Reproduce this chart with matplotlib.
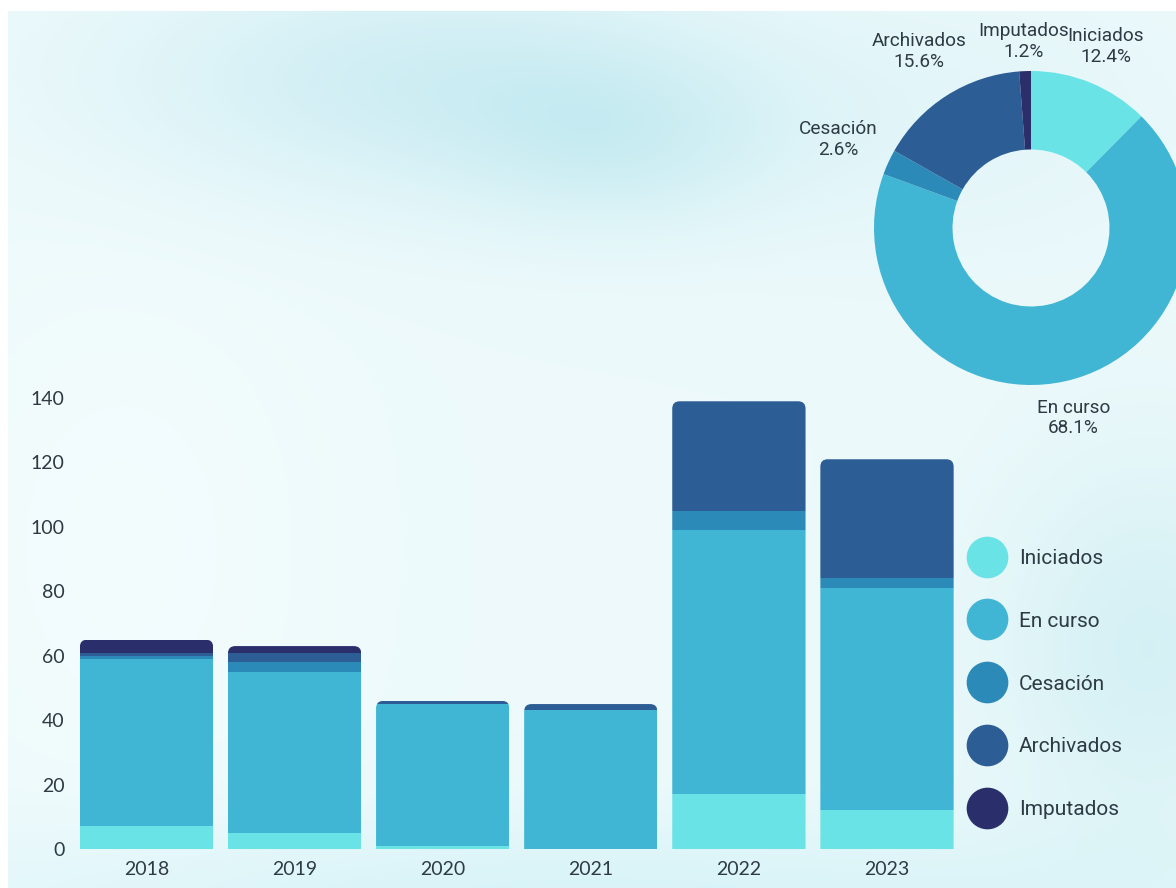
import numpy as np
import matplotlib.pyplot as plt
from matplotlib.patches import FancyBboxPatch, BoxStyle
from matplotlib.lines import Line2D


years = ['2018', '2019', '2020', '2021', '2022', '2023']
categories = ['Iniciados', 'En curso', 'Cesación', 'Archivados', 'Imputados']
iniciados = [7, 5, 1, 0, 17, 12]
en_curso = [52, 50, 44, 43, 82, 69]
cesacion = [1, 3, 0, 0, 6, 3]
archivados = [1, 3, 1, 2, 34, 37]
imputados = [4, 2, 0, 0, 0, 0]
series = [iniciados, en_curso, cesacion, archivados, imputados]

pie_pct = [12.4, 68.1, 2.6, 15.6, 1.2]

colors = ['#6ae3e6', '#41b6d4', '#2b8ab8', '#2c5d95', '#2a2f6b']
text_col = '#2e3b44'

W, H = 1176, 888
fig = plt.figure(figsize=(W / 100, H / 100), dpi=100)
fig.patch.set_facecolor('white')

# soft watercolour wash behind everything
bg = fig.add_axes([8 / W, 0, 1 - 8 / W, 1 - 11 / H], zorder=-10)
gx, gy = np.meshgrid(np.linspace(8, W, 300), np.linspace(11, H, 230))
base = np.array([0.93, 0.98, 0.985])
img = np.ones(gy.shape + (3,)) * base


def wash(cx, cy, sx, sy, col, k):
    m = k * np.exp(-(((gx - cx) / sx) ** 2 + ((gy - cy) / sy) ** 2))
    return m[..., None] * (np.array(col) - base)


img += wash(420, 80, 300, 120, [0.78, 0.92, 0.95], 0.75)
img += wash(620, 140, 160, 90, [0.76, 0.92, 0.94], 0.5)
img += wash(1150, 650, 160, 200, [0.80, 0.93, 0.95], 0.7)
img += wash(600, 900, 700, 80, [0.83, 0.95, 0.97], 0.8)
img += wash(950, 120, 260, 150, [0.86, 0.95, 0.97], 0.5)
img += wash(120, 550, 200, 300, [0.97, 0.995, 1.0], 0.6)
bg.imshow(np.clip(img, 0, 1), aspect='auto', interpolation='bicubic')
bg.axis('off')

# stacked bars
ax_l, ax_r = 70, 960
y0_px, px_per_unit = 849, 3.221
ymax = 145
pitch, first_c = 148.1, 146.5
ax = fig.add_axes([ax_l / W, (H - y0_px) / H, (ax_r - ax_l) / W,
                   ymax * px_per_unit / H])
ax.patch.set_alpha(0)
x = np.arange(len(years))
ax.set_xlim((ax_l - first_c) / pitch, (ax_r - first_c) / pitch)
ax.set_ylim(0, ymax)

width = 0.9
bottom = np.zeros(len(years))
containers = []
for vals, c in zip(series, colors):
    bc = ax.bar(x, vals, width=width, bottom=bottom, color=c, linewidth=0)
    containers.append(bc)
    bottom += np.array(vals)

# rounded tops: clip each stack with a rounded box
aspect = pitch / px_per_unit
for i, tot in enumerate(bottom):
    clip = FancyBboxPatch((x[i] - width / 2, -20), width, tot + 20,
                          boxstyle=BoxStyle.Round(pad=0, rounding_size=0.05),
                          mutation_aspect=aspect, transform=ax.transData)
    for bc in containers:
        bc.patches[i].set_clip_path(clip)

ax.set_xticks(x)
ax.set_xticklabels(years)
ax.set_yticks(range(0, 141, 20))
ax.tick_params(length=0, labelsize=14, colors=text_col)
ax.tick_params(axis='x', pad=8.5)
ax.tick_params(axis='y', pad=4)
for lab in ax.get_xticklabels() + ax.get_yticklabels():
    lab.set_fontfamily('Lato')
for sp in ax.spines.values():
    sp.set_visible(False)

# donut
cx, cy, r = 1031, 228, 157
ax2 = fig.add_axes([(cx - r) / W, (H - cy - r) / H, 2 * r / W, 2 * r / H])
wedges, _ = ax2.pie(pie_pct, colors=colors, startangle=90, counterclock=False,
                    radius=1, wedgeprops=dict(width=0.5, linewidth=0))
ax2.set_xlim(-1, 1)
ax2.set_ylim(-1, 1)
label_dist = [1.25, 1.24, 1.35, 1.33, 1.19]
for w, name, p, d in zip(wedges, categories, pie_pct, label_dist):
    a = np.deg2rad((w.theta1 + w.theta2) / 2)
    ax2.text(d * np.cos(a), d * np.sin(a), f'{name}\n{p:.1f}%', ha='center',
             va='center', fontsize=13.7, family='Roboto', color=text_col,
             linespacing=1.2, clip_on=False)

# legend with round markers
handles = [Line2D([], [], ls='', marker='o', ms=29, color=c) for c in colors]
leg = fig.legend(handles, categories, loc='upper left',
                 bbox_to_anchor=(977 / W, 1 - 549 / H), frameon=False,
                 prop={'family': 'Roboto', 'size': 15}, handlelength=1.0,
                 handletextpad=1.0, labelspacing=2.1, borderpad=0,
                 borderaxespad=0)
for t in leg.get_texts():
    t.set_color(text_col)

fig.savefig('out.png', dpi=100)
